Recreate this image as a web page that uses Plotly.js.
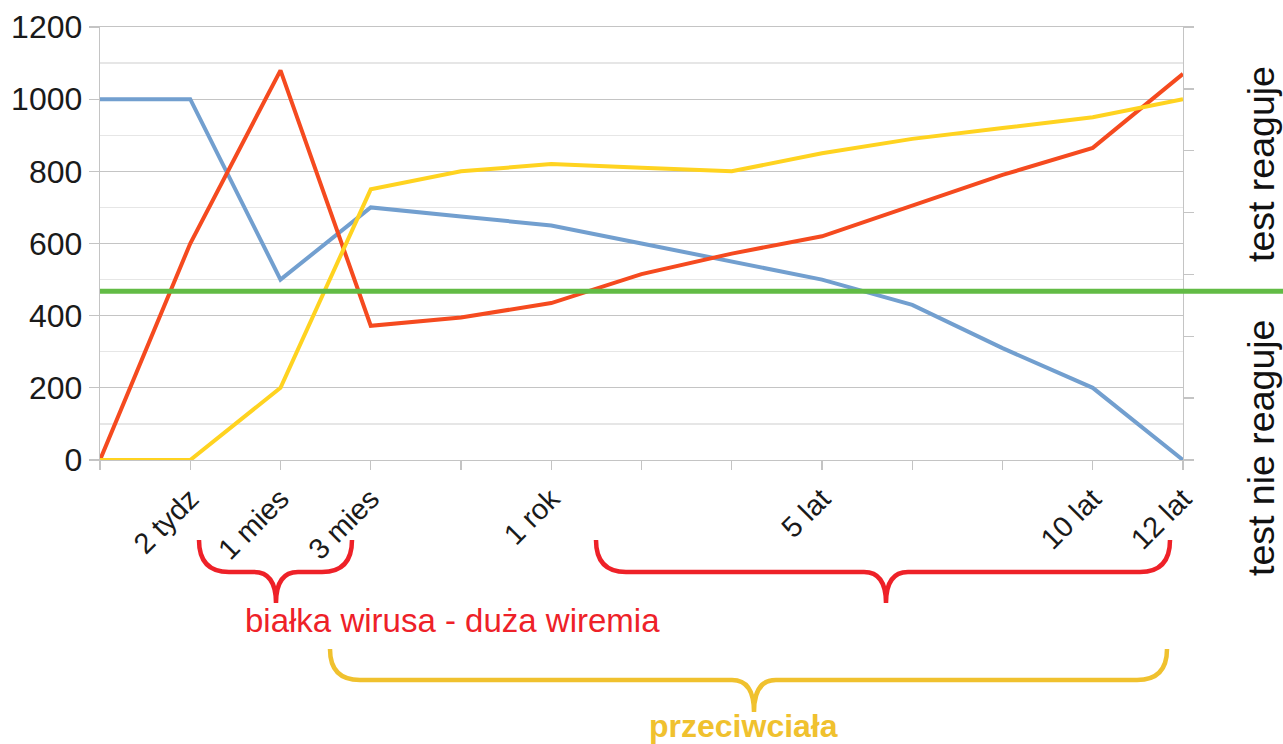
<!DOCTYPE html>
<html>
<head>
<meta charset="utf-8">
<script src="https://cdn.plot.ly/plotly-3.0.1.min.js"></script>
<style>html,body{margin:0;padding:0;background:#fff;}#chart{width:1283px;height:744px;}</style>
</head>
<body>
<div id="chart"></div>
<script>
// ---- data ----
const categories = ['', '2 tydz', '1 mies', '3 mies', '', '1 rok', '', '', '5 lat', '', '', '10 lat', '12 lat'];
const positions = [0, 1, 2, 3, 4, 5, 6, 7, 8, 9, 10, 11, 12];
const blueSeries = [1000, 1000, 500, 700, 675, 650, 600, 550, 500, 430, 310, 200, 0];
const redSeries = [0, 600, 1080, 372, 395, 435, 515, 572, 620, 705, 790, 865, 1070];
const yellowSeries = [0, 0, 200, 750, 800, 820, 810, 800, 850, 890, 920, 950, 1000];
const threshold = [468];
const yTickVals = [0, 200, 400, 600, 800, 1000, 1200];
const labelTexts = ['białka wirusa - duża wiremia', 'przeciwciała', 'test reaguje', 'test nie reaguje'];

// ---- layout geometry (pixels) ----
const W = 1283, H = 744;
const M = {l: 100, r: 100, t: 27, b: 284};
const PW = W - M.l - M.r, PH = H - M.t - M.b;
const px = v => (v - M.l) / PW;
const py = v => (H - M.b - v) / PH;

function brace(x0, x1, xm, ytop, ymid, ytip, rEnd, rMid) {
  const f = (a, b) => px(a).toFixed(5) + ',' + py(b).toFixed(5);
  return 'M' + f(x0, ytop) +
    ' Q' + f(x0, ymid) + ' ' + f(x0 + rEnd, ymid) +
    ' L' + f(xm - rMid, ymid) +
    ' Q' + f(xm, ymid) + ' ' + f(xm, ytip) +
    ' Q' + f(xm, ymid) + ' ' + f(xm + rMid, ymid) +
    ' L' + f(x1 - rEnd, ymid) +
    ' Q' + f(x1, ymid) + ' ' + f(x1, ytop);
}

const RED = '#ee2128', GOLD = '#f0c12e';
const FONT = 'Liberation Sans, Arial, sans-serif';
const GRID = '#c4c4c4';

const traces = [
  {x: positions, y: blueSeries, type: 'scatter', mode: 'lines', line: {color: '#729fcf', width: 4}, hoverinfo: 'y'},
  {x: positions, y: redSeries, type: 'scatter', mode: 'lines', line: {color: '#f54a1f', width: 4}, hoverinfo: 'y'},
  {x: positions, y: yellowSeries, type: 'scatter', mode: 'lines', line: {color: '#ffd320', width: 4}, hoverinfo: 'y'},
  {x: [], y: [], type: 'scatter', mode: 'lines', yaxis: 'y2', hoverinfo: 'skip'}
];

const layout = {
  width: W, height: H,
  margin: M,
  paper_bgcolor: '#fff', plot_bgcolor: '#fff',
  showlegend: false,
  font: {family: FONT, color: '#1a1a1a'},
  xaxis: {
    type: 'linear', range: [0, 12],
    tickmode: 'array', tickvals: positions, ticktext: categories,
    tickangle: -45, tickfont: {size: 29, family: FONT, color: '#1a1a1a'},
    ticks: 'outside', ticklen: 9, tickcolor: GRID, tickwidth: 1.3,
    showgrid: false, zeroline: false,
    showline: true, linecolor: GRID, linewidth: 1.3, mirror: true
  },
  yaxis: {
    range: [0, 1200], tickmode: 'array', tickvals: yTickVals,
    tickfont: {size: 32, family: FONT, color: '#1a1a1a'},
    ticks: 'outside', ticklen: 10, tickcolor: GRID, tickwidth: 1.3,
    showgrid: true, gridcolor: GRID, gridwidth: 1.3,
    minor: {dtick: 100, tick0: 0, showgrid: true, gridcolor: '#e6e6e6', gridwidth: 1.3, ticks: ''},
    zeroline: false, showline: true, linecolor: GRID, linewidth: 1.3
  },
  yaxis2: {
    overlaying: 'y', side: 'right', range: [0, 7], tickmode: 'linear', tick0: 0, dtick: 1,
    ticks: 'outside', ticklen: 10, tickcolor: GRID, tickwidth: 1.3,
    showticklabels: false, showgrid: false, zeroline: false,
    showline: true, linecolor: GRID, linewidth: 1.3
  },
  shapes: [
    {type: 'line', xref: 'paper', yref: 'y', x0: 0, x1: px(W), y0: threshold[0], y1: threshold[0],
     line: {color: '#62bb45', width: 5}, layer: 'above'},
    {type: 'path', xref: 'paper', yref: 'paper', path: brace(199, 352, 276, 540, 572, 603, 30, 22),
     line: {color: RED, width: 4.5}},
    {type: 'path', xref: 'paper', yref: 'paper', path: brace(596, 1170, 886, 540, 572, 603, 30, 22),
     line: {color: RED, width: 4.5}},
    {type: 'path', xref: 'paper', yref: 'paper', path: brace(330, 1167, 754, 649, 680, 712, 30, 22),
     line: {color: GOLD, width: 4.5}}
  ],
  annotations: [
    {text: labelTexts[0], xref: 'paper', yref: 'paper', x: px(452), y: py(620), xanchor: 'center', yanchor: 'middle',
     showarrow: false, font: {size: 33, family: FONT, color: RED}},
    {text: '<b>' + labelTexts[1] + '</b>', xref: 'paper', yref: 'paper', x: px(743), y: py(726), xanchor: 'center', yanchor: 'middle',
     showarrow: false, font: {size: 32, family: FONT, color: GOLD}},
    {text: labelTexts[2], xref: 'paper', yref: 'paper', x: px(1261), y: py(164), xanchor: 'center', yanchor: 'middle',
     textangle: -90, showarrow: false, font: {size: 37.5, family: FONT, color: '#111'}},
    {text: labelTexts[3], xref: 'paper', yref: 'paper', x: px(1261), y: py(448), xanchor: 'center', yanchor: 'middle',
     textangle: -90, showarrow: false, font: {size: 37.5, family: FONT, color: '#111'}}
  ]
};

Plotly.newPlot('chart', traces, layout, {displayModeBar: false, staticPlot: true});
</script>
</body>
</html>
